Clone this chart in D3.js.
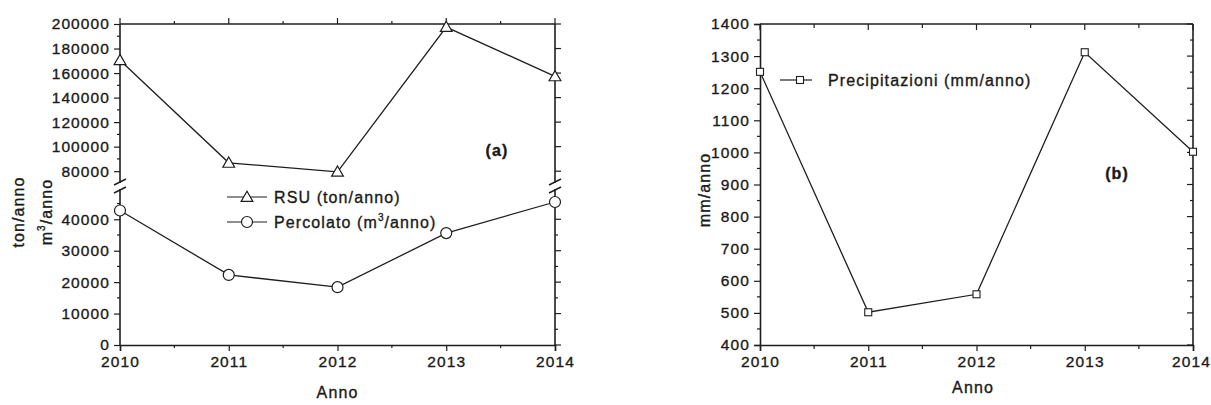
<!DOCTYPE html>
<html>
<head>
<meta charset="utf-8">
<script src="https://cdn.jsdelivr.net/npm/d3@7"></script>
<style>
  body { margin: 0; background: #fff; }
  svg text { font-family: "Liberation Sans", Arial, sans-serif; fill: #1a1a1a; stroke: #1a1a1a; stroke-width: 0.35px; }
  .tick text { font-size: 15.5px; letter-spacing: 1.1px; }
  .lbl { font-size: 16px; letter-spacing: 1.1px; }
</style>
</head>
<body>
<div id="chart"></div>
<script>
var years        = [2010, 2011, 2012, 2013, 2014];
var rsu          = [170500, 86800, 79500, 197500, 157300];
var percolato    = [42800, 22300, 18400, 35600, 45500];
var precipitazioni = [1251, 502, 558, 1312, 1002];

var rsu_ticks    = [80000, 100000, 120000, 140000, 160000, 180000, 200000];
var perc_ticks   = [0, 10000, 20000, 30000, 40000];
var prec_ticks   = [400, 500, 600, 700, 800, 900, 1000, 1100, 1200, 1300, 1400];

var ink = "#1e1e1e";

var svg = d3.select("#chart").append("svg")
  .attr("width", 1211)
  .attr("height", 405);

// small helper: ticks from a scale onto a vertical or horizontal edge
function edge_ticks(g, values, pos, len, vertical, at) {
  g.selectAll(null)
    .data(values)
    .enter().append("line")
    .attr("x1", function(d) { return vertical ? at : pos(d); })
    .attr("x2", function(d) { return vertical ? at + len : pos(d); })
    .attr("y1", function(d) { return vertical ? pos(d) : at; })
    .attr("y2", function(d) { return vertical ? pos(d) : at + len; })
    .attr("stroke", ink)
    .attr("stroke-width", 1.2);
}

function range_step(a, b, s) {
  return d3.range(a, b + s / 2, s);
}

function style_axis(g, keep_domain) {
  if (keep_domain) g.select(".domain").attr("stroke", ink).attr("stroke-width", 1.6);
  else g.select(".domain").remove();
  g.selectAll(".tick line").attr("stroke", ink).attr("stroke-width", 1.2);
}

/* ---------- panel (a) ---------- */
var a = { left: 120, right: 555, top: 24, bottom: 345, brk_hi: 181, brk_lo: 191 };

var xa = d3.scaleLinear().domain([2010, 2014]).range([a.left, a.right]);
var ya_hi = d3.scaleLinear().domain([72000, 200000]).range([a.brk_hi, a.top]);
var ya_lo = d3.scaleLinear().domain([0, 49000]).range([a.bottom, a.brk_lo]);

var ga = svg.append("g");

// x axis bottom
ga.append("g")
  .attr("transform", "translate(0," + a.bottom + ")")
  .call(d3.axisBottom(xa).tickValues(years).tickFormat(d3.format("d")).tickSize(6).tickPadding(5))
  .call(function(g) { style_axis(g, true); });
edge_ticks(ga, range_step(2010.5, 2013.5, 1), xa, 3, false, a.bottom);

// x axis top
ga.append("line").attr("x1", a.left).attr("x2", a.right).attr("y1", a.top).attr("y2", a.top)
  .attr("stroke", ink).attr("stroke-width", 1.6);
edge_ticks(ga, years, xa, -6, false, a.top);
edge_ticks(ga, range_step(2010.5, 2013.5, 1), xa, -3, false, a.top);

// y axis left, upper segment
ga.append("g")
  .attr("transform", "translate(" + a.left + ",0)")
  .call(d3.axisLeft(ya_hi).tickValues(rsu_ticks).tickFormat(d3.format("d")).tickSize(6).tickPadding(4))
  .call(function(g) { style_axis(g, false); });
edge_ticks(ga, range_step(90000, 190000, 20000), ya_hi, -3, true, a.left);

// y axis left, lower segment
ga.append("g")
  .attr("transform", "translate(" + a.left + ",0)")
  .call(d3.axisLeft(ya_lo).tickValues(perc_ticks).tickFormat(d3.format("d")).tickSize(6).tickPadding(4))
  .call(function(g) { style_axis(g, false); });
edge_ticks(ga, range_step(5000, 45000, 10000), ya_lo, -3, true, a.left);

// right axis
edge_ticks(ga, rsu_ticks, ya_hi, 6, true, a.right);
edge_ticks(ga, perc_ticks, ya_lo, 6, true, a.right);
edge_ticks(ga, range_step(5000, 45000, 10000), ya_lo, 3, true, a.right);

// axis lines with break
[a.left, a.right].forEach(function(x) {
  ga.append("line").attr("x1", x).attr("x2", x).attr("y1", a.top).attr("y2", a.brk_hi + 2)
    .attr("stroke", ink).attr("stroke-width", 1.6);
  ga.append("line").attr("x1", x).attr("x2", x).attr("y1", a.brk_lo - 2).attr("y2", a.bottom)
    .attr("stroke", ink).attr("stroke-width", 1.6);
  [a.brk_hi + 1, a.brk_lo - 1].forEach(function(y) {
    ga.append("line").attr("x1", x - 6).attr("x2", x + 6).attr("y1", y + 3).attr("y2", y - 3)
      .attr("stroke", ink).attr("stroke-width", 1.4);
  });
});

// RSU line + triangles
var tri = d3.symbol().type(d3.symbolTriangle).size(60);
ga.append("path")
  .datum(years.map(function(y, i) { return [xa(y), ya_hi(rsu[i])]; }))
  .attr("d", d3.line())
  .attr("fill", "none").attr("stroke", ink).attr("stroke-width", 1.3);
ga.selectAll(null).data(years).enter().append("path")
  .attr("d", tri)
  .attr("transform", function(y, i) { return "translate(" + xa(y) + "," + (ya_hi(rsu[i]) + 1) + ")"; })
  .attr("fill", "#fff").attr("stroke", ink).attr("stroke-width", 1.2);

// Percolato line + circles
ga.append("path")
  .datum(years.map(function(y, i) { return [xa(y), ya_lo(percolato[i])]; }))
  .attr("d", d3.line())
  .attr("fill", "none").attr("stroke", ink).attr("stroke-width", 1.3);
ga.selectAll(null).data(years).enter().append("circle")
  .attr("cx", function(y) { return xa(y); })
  .attr("cy", function(y, i) { return ya_lo(percolato[i]); })
  .attr("r", 5.5)
  .attr("fill", "#fff").attr("stroke", ink).attr("stroke-width", 1.2);

// legend (a)
ga.append("line").attr("x1", 227).attr("x2", 267).attr("y1", 197).attr("y2", 197).attr("stroke", ink).attr("stroke-width", 1.2);
ga.append("path").attr("d", tri).attr("transform", "translate(247,198)")
  .attr("fill", "#fff").attr("stroke", ink).attr("stroke-width", 1.2);
ga.append("text").attr("class", "lbl").attr("x", 274).attr("y", 203).text("RSU (ton/anno)");

ga.append("line").attr("x1", 227).attr("x2", 267).attr("y1", 222).attr("y2", 222).attr("stroke", ink).attr("stroke-width", 1.2);
ga.append("circle").attr("cx", 247).attr("cy", 222).attr("r", 5.5)
  .attr("fill", "#fff").attr("stroke", ink).attr("stroke-width", 1.2);
var pt = ga.append("text").attr("class", "lbl").attr("x", 274).attr("y", 228);
pt.append("tspan").text("Percolato (m");
pt.append("tspan").attr("dy", -7).style("font-size", "10px").text("3");
pt.append("tspan").attr("dy", 7).text("/anno)");

ga.append("text").attr("class", "lbl").attr("x", 497).attr("y", 156)
  .attr("text-anchor", "middle").style("font-weight", "bold").text("(a)");

// titles (a)
ga.append("text").attr("class", "lbl").attr("text-anchor", "middle")
  .attr("transform", "translate(" + ((a.left + a.right) / 2) + ",398)").text("Anno");
ga.append("text").attr("class", "lbl").attr("text-anchor", "middle")
  .attr("transform", "translate(24,212) rotate(-90)").text("ton/anno");
var mt = ga.append("text").attr("class", "lbl").attr("text-anchor", "middle")
  .attr("transform", "translate(52,212) rotate(-90)");
mt.append("tspan").text("m");
mt.append("tspan").attr("dy", -7).style("font-size", "10px").text("3");
mt.append("tspan").attr("dy", 7).text("/anno");

/* ---------- panel (b) ---------- */
var b = { left: 760, right: 1193, top: 24, bottom: 345 };

var xb = d3.scaleLinear().domain([2010, 2014]).range([b.left, b.right]);
var yb = d3.scaleLinear().domain([400, 1400]).range([b.bottom, b.top]);

var gb = svg.append("g");

gb.append("g")
  .attr("transform", "translate(0," + b.bottom + ")")
  .call(d3.axisBottom(xb).tickValues(years).tickFormat(d3.format("d")).tickSize(6).tickPadding(5))
  .call(function(g) {
    style_axis(g, true);
    // last label sits at the page edge, nudge it in
    g.selectAll(".tick text").filter(function(d) { return d === 2014; }).attr("dx", -2);
  });
edge_ticks(gb, range_step(2010.5, 2013.5, 1), xb, 4, false, b.bottom);

gb.append("g")
  .attr("transform", "translate(" + b.left + ",0)")
  .call(d3.axisLeft(yb).tickValues(prec_ticks).tickFormat(d3.format("d")).tickSize(6).tickPadding(4))
  .call(function(g) { style_axis(g, true); });
edge_ticks(gb, range_step(450, 1350, 100), yb, -3, true, b.left);

// top and right edges, ticks inward
gb.append("line").attr("x1", b.left).attr("x2", b.right).attr("y1", b.top).attr("y2", b.top)
  .attr("stroke", ink).attr("stroke-width", 1.6);
gb.append("line").attr("x1", b.right).attr("x2", b.right).attr("y1", b.top).attr("y2", b.bottom)
  .attr("stroke", ink).attr("stroke-width", 1.6);
edge_ticks(gb, years, xb, 6, false, b.top);
edge_ticks(gb, range_step(2010.5, 2013.5, 1), xb, 4, false, b.top);
edge_ticks(gb, prec_ticks, yb, -6, true, b.right);
edge_ticks(gb, range_step(450, 1350, 100), yb, -3, true, b.right);

gb.append("path")
  .datum(years.map(function(y, i) { return [xb(y), yb(precipitazioni[i])]; }))
  .attr("d", d3.line())
  .attr("fill", "none").attr("stroke", ink).attr("stroke-width", 1.3);
gb.selectAll(null).data(years).enter().append("rect")
  .attr("x", function(y) { return xb(y) - 3.5; })
  .attr("y", function(y, i) { return yb(precipitazioni[i]) - 3.5; })
  .attr("width", 7).attr("height", 7)
  .attr("fill", "#fff").attr("stroke", ink).attr("stroke-width", 1.1);

// legend (b)
gb.append("line").attr("x1", 780).attr("x2", 812).attr("y1", 80).attr("y2", 80).attr("stroke", ink).attr("stroke-width", 1.2);
gb.append("rect").attr("x", 796.5).attr("y", 76.5).attr("width", 7).attr("height", 7)
  .attr("fill", "#fff").attr("stroke", ink).attr("stroke-width", 1.1);
gb.append("text").attr("class", "lbl").attr("x", 828).attr("y", 86).text("Precipitazioni (mm/anno)");

gb.append("text").attr("class", "lbl").attr("x", 1117).attr("y", 179)
  .attr("text-anchor", "middle").style("font-weight", "bold").text("(b)");

gb.append("text").attr("class", "lbl").attr("text-anchor", "middle")
  .attr("transform", "translate(973,393)").text("Anno");
gb.append("text").attr("class", "lbl").attr("text-anchor", "middle")
  .attr("transform", "translate(710,190) rotate(-90)").text("mm/anno");
</script>
</body>
</html>
